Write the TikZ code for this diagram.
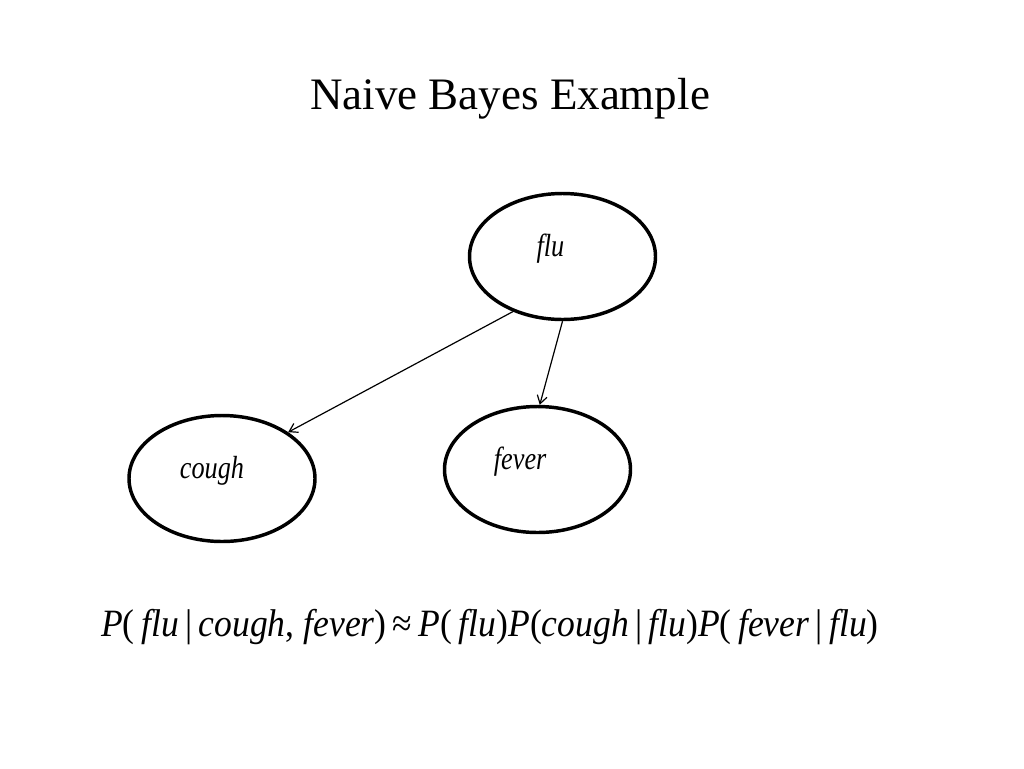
\documentclass[tikz,border=0pt]{standalone}
\usepackage{fontspec}
\setmainfont{Liberation Serif}
\newfontfamily\narrowfont[FakeStretch=0.82]{Liberation Serif}
\newfontfamily\eqfont[FakeStretch=0.92]{Liberation Serif}
\usetikzlibrary{arrows.meta,positioning,shapes.geometric}
\newcommand{\iv}[1]{{\itshape #1}}

\begin{document}
\begin{tikzpicture}[x=0.75pt,y=-0.75pt,
    var/.style={ellipse,draw,line width=2.6pt,minimum width=139.5pt,minimum height=94.5pt,inner sep=0pt},
    lbl/.style={anchor=base,inner sep=0pt,font=\narrowfont\itshape\fontsize{24}{28}\selectfont},
    dep/.style={line width=0.9pt,-{Straight Barb[length=6pt,width=7.5pt]}}]
    \useasboundingbox (0,0) rectangle (1024,768);
    \node[anchor=base,inner sep=0pt,font=\fontsize{33.75}{40}\selectfont] (title) at (510,109) {Naive Bayes Example};
    % network
    \node[var] (flu)   at (562.5,256.5) {};
    \node[var] (cough) at (222,478.5) {};
    \node[var] (fever) at (537.5,469.5) {};
    \node[lbl] (flu_l)   at ([xshift=-9pt]flu.center)    {flu};
    \node[lbl] (cough_l) at ([xshift=-7.5pt]cough.center) {cough};
    \node[lbl] (fever_l) at ([xshift=-13pt]fever.center) {fever};
    \path[dep]
    (flu.228) edge (cough.35)
    (flu.270) edge (fever.88);
    % factorisation
    \node[anchor=base,inner sep=0pt,font=\eqfont\fontsize{29}{34}\selectfont] (formula) at (490,636)
    {\iv{P}(\,\iv{flu}\,|\,\iv{cough}, \iv{fever})\,≈\,\iv{P}(\,\iv{flu})\iv{P}(\iv{cough}\,|\,\iv{flu})\iv{P}(\,\iv{fever}\,|\,\iv{flu})};
\end{tikzpicture}
\end{document}
